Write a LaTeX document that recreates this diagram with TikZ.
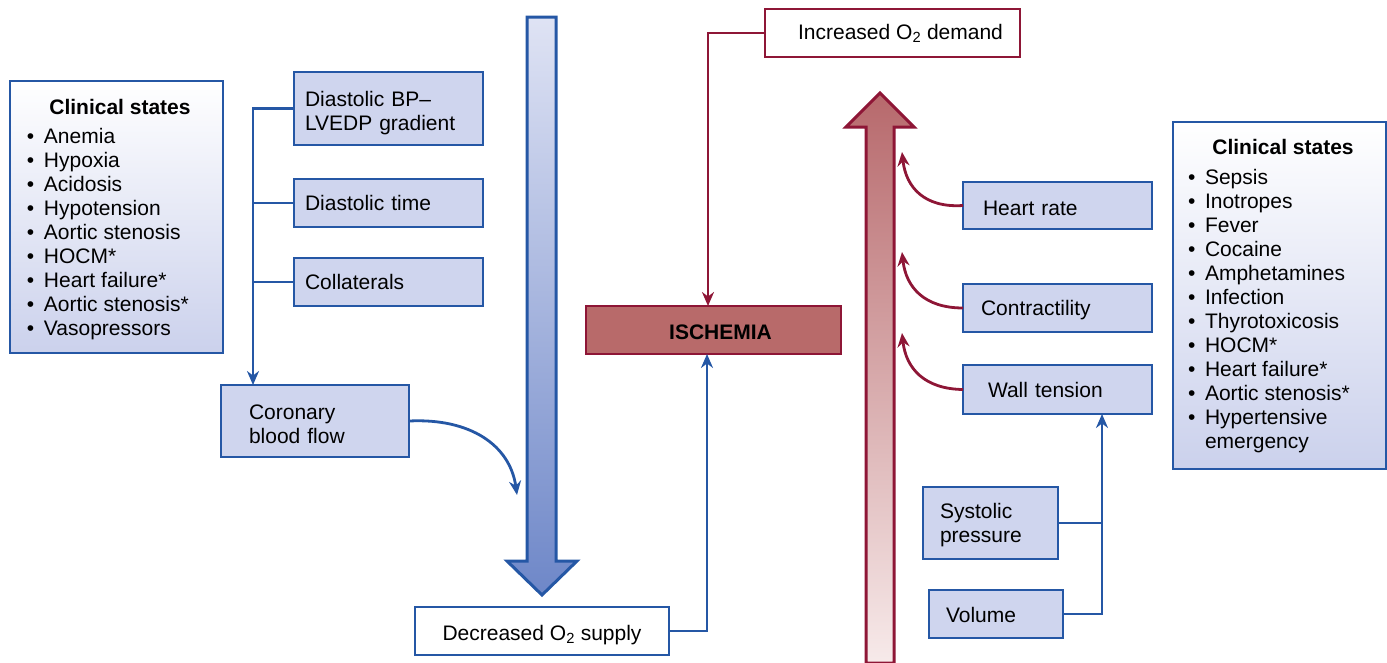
\documentclass[tikz,border=0pt]{standalone}
\usepackage{fontspec}
\setmainfont{Liberation Sans}
\usetikzlibrary{arrows.meta}

\definecolor{bline}{HTML}{2557A5}
\definecolor{boxfill}{HTML}{CFD5EE}
\definecolor{rline}{HTML}{8E1636}
\definecolor{ischfill}{HTML}{B86A6A}
\definecolor{csbot}{HTML}{CBD1EC}
\definecolor{bluetop}{HTML}{DFE3F4}
\definecolor{bluebot}{HTML}{6E87C8}
\definecolor{redtop}{HTML}{B7696C}
\definecolor{redbot}{HTML}{F7EAEA}

\newcommand\lbul{\makebox[17pt][l]{\textbullet}}
\newcommand\lgap{\makebox[17pt]{}}
% invisible strut that lowers a label inside its box
\newcommand\dropby[1]{\rule{0pt}{#1}}

\begin{document}
\begin{tikzpicture}[x=1pt,y=-1pt,
  font=\fontsize{21}{24}\selectfont,
  every node/.style={inner sep=0pt, outer sep=0pt},
  fbox/.style={draw=bline, line width=2.5pt, fill=boxfill, anchor=north west, align=left},
  wbox/.style={draw=#1, line width=2.5pt, fill=white, anchor=north west, align=center},
  csbox/.style={draw=bline, line width=2.5pt, top color=white, bottom color=csbot, anchor=north west},
  bconn/.style={draw=bline, line width=2.8pt},
  rconn/.style={draw=rline, line width=2.8pt},
  btip/.style={-{Stealth[length=14pt,width=12pt]}},
  bold/.style={font=\fontsize{21}{24}\selectfont\bfseries},
]
\useasboundingbox (0,0) rectangle (1387,662);

% ---------- supply side ----------
\node[csbox, minimum width=213pt, minimum height=272pt] (csL) at (10,81) {};
\node[bold] (csLt) at (120,107) {Clinical states};
\node[anchor=north west, align=left] (csLl) at (27,128.5)
  {\lbul Anemia\\ \lbul Hypoxia\\ \lbul Acidosis\\ \lbul Hypotension\\
   \lbul Aortic stenosis\\ \lbul HOCM*\\ \lbul Heart failure*\\
   \lbul Aortic stenosis*\\ \lbul Vasopressors};

\node[fbox, minimum width=189pt, minimum height=73pt, text width=167pt, inner xsep=11pt] (dbp) at (294,72)
  {\dropby{25pt}Diastolic BP–\\LVEDP gradient};
\node[fbox, minimum width=189pt, minimum height=48pt, text width=167pt, inner xsep=11pt] (dt) at (294,179)
  {Diastolic time};
\node[fbox, minimum width=189pt, minimum height=48pt, text width=167pt, inner xsep=11pt] (col) at (294,258)
  {Collaterals};
\node[fbox, minimum width=188pt, minimum height=72pt, text width=132pt, inner xsep=28pt] (cbf) at (221,385)
  {\dropby{21pt}Coronary\\blood flow};

\draw[bconn, btip] (dbp.west) -- ++(-41,0) coordinate (jl) -- (jl |- cbf.north);
\draw[bconn] (dt.west) -- (jl |- dt.west);
\draw[bconn] (col.west) -- (jl |- col.west);

% big supply arrow
\shade[top color=bluetop, bottom color=bluebot, draw=bline, line width=3pt, line join=miter]
  (527,17) -- (556,17) -- (556,561) -- (577,561) -- (542,595) -- (507,561) -- (527,561) -- cycle;

\coordinate (cbfend) at (517,495);
\draw[bconn, btip] (cbf.east) .. controls (470,418) and (510,445) .. (cbfend);

\node[wbox=bline, minimum width=254pt, minimum height=48pt] (dec) at (415,607)
  {\dropby{23pt}Decreased O\textsubscript{2} supply};

% ---------- ischemia ----------
\node[draw=rline, line width=2.5pt, fill=ischfill, anchor=north west, minimum width=255pt, minimum height=48pt,
  bold] (isch) at (586,306) {\dropby{20pt}\hspace*{14pt}ISCHEMIA};

\draw[bconn, btip] (dec.east) -| ([xshift=-6.5pt]isch.south);

\node[wbox=rline, minimum width=255pt, minimum height=48pt] (inc) at (765,9)
  {\hspace*{16pt}Increased O\textsubscript{2} demand};
\draw[rconn, btip] (inc.west) -| ([xshift=-5.5pt]isch.north);

% ---------- demand side ----------
\shade[top color=redtop, bottom color=redbot, draw=rline, line width=3pt, line join=miter]
  (866,663) -- (866,127) -- (846,127) -- (880,93) -- (914,127) -- (894,127) -- (894,663) -- cycle;

\node[fbox, minimum width=189pt, minimum height=47pt, text width=149pt, inner xsep=20pt] (hr) at (963,182)
  {\dropby{20pt}Heart rate};
\node[fbox, minimum width=189pt, minimum height=48pt, text width=153pt, inner xsep=18pt] (con) at (963,284)
  {\dropby{19pt}Contractility};
\node[fbox, minimum width=189pt, minimum height=49pt, text width=139pt, inner xsep=25pt] (wt) at (963,365)
  {Wall tension};
\node[fbox, minimum width=135pt, minimum height=72pt, text width=101pt, inner xsep=17pt] (sys) at (923,487)
  {\dropby{19pt}Systolic\\pressure};
\node[fbox, minimum width=134pt, minimum height=48pt, text width=100pt, inner xsep=17pt] (vol) at (929,590)
  {\dropby{17pt}Volume};

\coordinate (hrtip) at (902,152);
\coordinate (contip) at (902,252);
\coordinate (wttip) at (902,333);
\draw[rconn, btip] (hr.west) .. controls (925,208) and (906,188) .. (hrtip);
\draw[rconn, btip] (con.west) .. controls (925,308) and (906,288) .. (contip);
\draw[rconn, btip] (wt.west) .. controls (925,389) and (906,369) .. (wttip);

\draw[bconn, btip] (vol.east) -| ([xshift=44.5pt]wt.south);
\draw[bconn] (sys.east) -- ++(44,0);

\node[csbox, minimum width=213pt, minimum height=347pt] (csR) at (1173,122) {};
\node[bold] (csRt) at (1283,147) {Clinical states};
\node[anchor=north west, align=left] (csRl) at (1188,169.5)
  {\lbul Sepsis\\ \lbul Inotropes\\ \lbul Fever\\ \lbul Cocaine\\ \lbul Amphetamines\\
   \lbul Infection\\ \lbul Thyrotoxicosis\\ \lbul HOCM*\\ \lbul Heart failure*\\
   \lbul Aortic stenosis*\\ \lbul Hypertensive\\ \lgap emergency};
\end{tikzpicture}
\end{document}
